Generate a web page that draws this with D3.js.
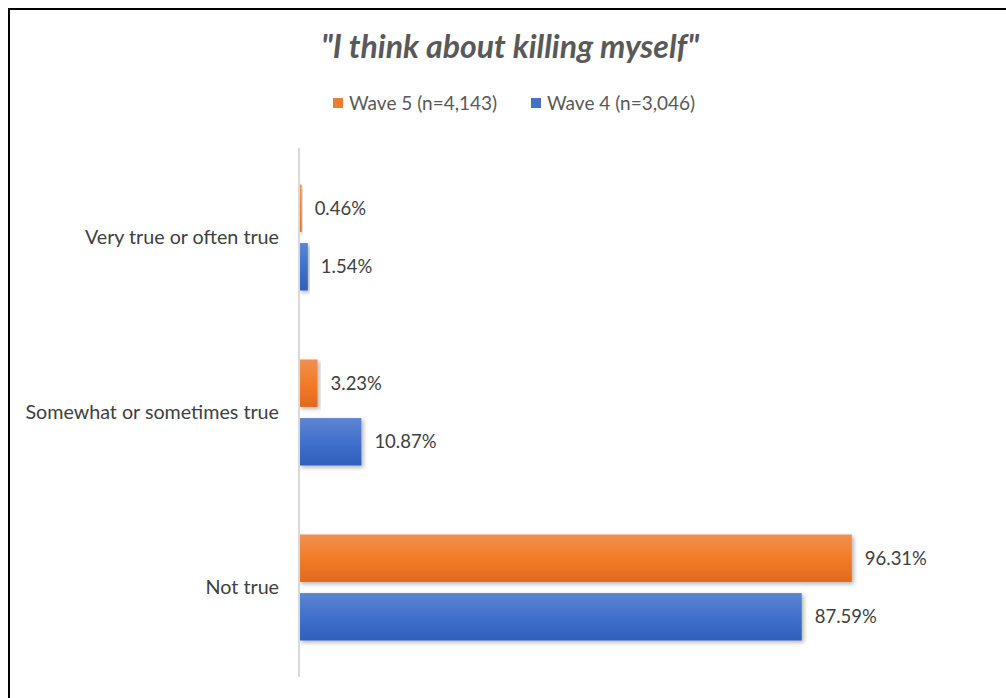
<!DOCTYPE html>
<html>
<head>
<meta charset="utf-8">
<script src="https://cdn.jsdelivr.net/npm/d3@7"></script>
<style>
  body { margin: 0; background: #fff; }
  text { font-family: Lato, "Open Sans", sans-serif; }
</style>
</head>
<body>
<div id="chart"></div>
<script>
// data
var categories = ["Very true or often true", "Somewhat or sometimes true", "Not true"];
var seriesNames = ["Wave 5 (n=4,143)", "Wave 4 (n=3,046)"];
var wave5 = [0.46, 3.23, 96.31];
var wave4 = [1.54, 10.87, 87.59];
var colors = ["#ed7d31", "#4472c4"];

var W = 1006, H = 698;
var margin = {top: 150, right: 133, bottom: 23, left: 299},
	width = W - margin.left - margin.right,
	height = H - margin.top - margin.bottom;

var svg = d3.select("#chart").append("svg")
	.attr("width", W)
	.attr("height", H);

// gradients + shadow
var defs = svg.append("defs");
var grads = [["#f28f52", "#f27c26", "#e2691a"], ["#5c86d0", "#4270cc", "#2f5fba"]];
grads.forEach(function(g, i) {
	var lg = defs.append("linearGradient").attr("id", "grad" + i)
		.attr("x1", 0).attr("y1", 0).attr("x2", 0).attr("y2", 1);
	lg.append("stop").attr("offset", "0%").attr("stop-color", g[0]);
	lg.append("stop").attr("offset", "50%").attr("stop-color", g[1]);
	lg.append("stop").attr("offset", "100%").attr("stop-color", g[2]);
});
var f = defs.append("filter").attr("id", "shadow")
	.attr("x", "-5%").attr("y", "-20%").attr("width", "120%").attr("height", "160%");
f.append("feDropShadow").attr("dx", 2).attr("dy", 2).attr("stdDeviation", 2)
	.attr("flood-color", "#000").attr("flood-opacity", 0.3);

// frame
svg.append("rect")
	.attr("x", 9).attr("y", 9).attr("width", W + 20).attr("height", H + 20)
	.attr("fill", "none").attr("stroke", "#000").attr("stroke-width", 2);

// title
svg.append("text")
	.attr("x", 510).attr("y", 58)
	.attr("text-anchor", "middle")
	.attr("font-size", 32).attr("font-weight", "bold").attr("font-style", "italic")
	.attr("fill", "#595959")
	.text("\"I think about killing myself\"");

// legend
var legX = [333, 531];
seriesNames.forEach(function(name, i) {
	var lg = svg.append("g").attr("transform", "translate(" + legX[i] + ",103)");
	lg.append("rect").attr("x", 0).attr("y", -5).attr("width", 10).attr("height", 10)
		.attr("fill", colors[i]);
	lg.append("text").attr("x", 16).attr("y", 0).attr("dy", "0.35em")
		.attr("font-size", 19).attr("fill", "#595959").text(name);
});

var g = svg.append("g")
	.attr("transform", "translate(" + margin.left + "," + margin.top + ")");

var x = d3.scaleLinear().domain([0, 100]).range([0, width]);
var y = d3.scaleBand().domain(categories).range([0, height]).paddingInner(0).paddingOuter(0);
var sub = d3.scaleBand().domain([0, 1]).range([34.5, y.bandwidth() - 34.5]).paddingInner(0.19);

// category labels
g.selectAll(".cat")
	.data(categories)
	.enter().append("text")
	.attr("class", "cat")
	.attr("x", -20)
	.attr("y", function(d) { return y(d) + y.bandwidth() / 2; })
	.attr("dy", "0.35em")
	.attr("text-anchor", "end")
	.attr("font-size", 19.7)
	.attr("fill", "#404040")
	.text(function(d) { return d; });

var rows = [];
categories.forEach(function(c, i) {
	rows.push({cat: c, s: 0, v: wave5[i]});
	rows.push({cat: c, s: 1, v: wave4[i]});
});

g.selectAll(".bar")
	.data(rows)
	.enter().append("rect")
	.attr("class", "bar")
	.attr("x", x(0))
	.attr("y", function(d) { return y(d.cat) + sub(d.s); })
	.attr("width", function(d) { return Math.max(x(d.v) - x(0), 1); })
	.attr("height", sub.bandwidth())
	.attr("fill", function(d) { return "url(#grad" + d.s + ")"; })
	.attr("filter", "url(#shadow)");

g.selectAll(".val")
	.data(rows)
	.enter().append("text")
	.attr("class", "val")
	.attr("x", function(d) { return x(d.v) + 13; })
	.attr("y", function(d) { return y(d.cat) + sub(d.s) + sub.bandwidth() / 2; })
	.attr("dy", "0.35em")
	.attr("font-size", 18.5)
	.attr("fill", "#404040")
	.text(function(d) { return d.v.toFixed(2) + "%"; });

// vertical axis line
g.append("line")
	.attr("x1", 0).attr("x2", 0)
	.attr("y1", -2).attr("y2", height + 2)
	.attr("stroke", "#d9d9d9").attr("stroke-width", 2);
</script>
</body>
</html>
